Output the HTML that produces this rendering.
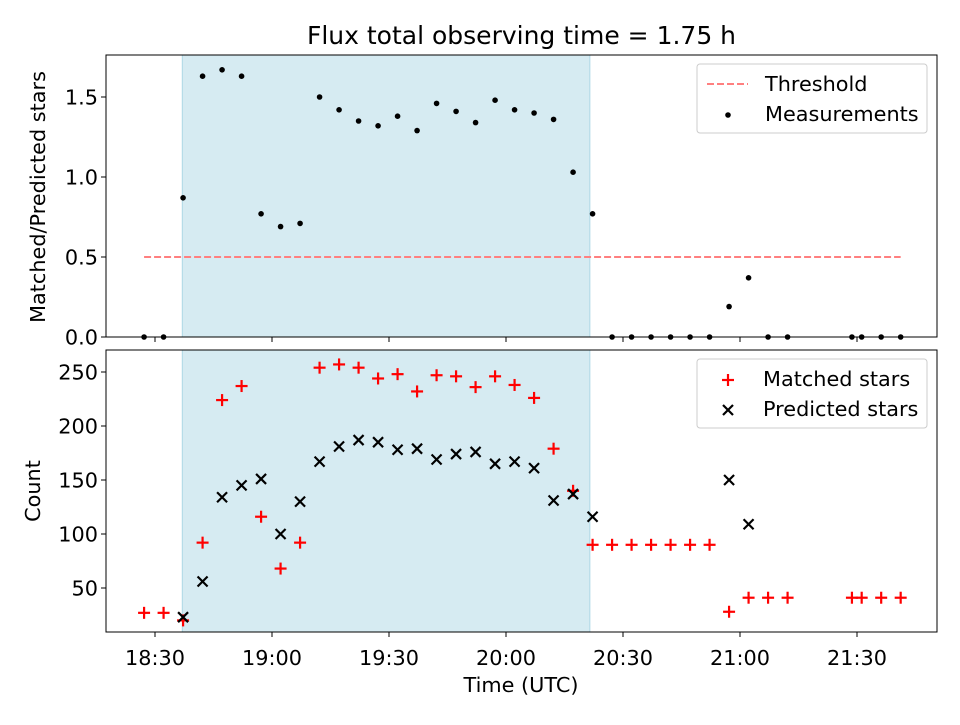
<!DOCTYPE html>
<html><head><meta charset="utf-8"><style>
body{margin:0;background:#fff}
svg{font-family:"DejaVu Sans","Liberation Sans",sans-serif}
</style></head><body>
<svg id="c" width="960" height="720"></svg>
<script>
const times=[-2.8,2.2,7.2,12.2,17.2,22.2,27.2,32.2,37.2,42.2,47.2,52.2,57.2,62.2,67.2,72.2,77.2,82.2,87.2,92.2,97.2,102.2,107.2,112.2,117.2,122.2,127.2,132.2,137.2,142.2,147.2,152.2,157.2,162.2,178.7,181.2,186.2,191.2];
const ratio=[0,0,0.87,1.63,1.67,1.63,0.77,0.69,0.71,1.50,1.42,1.35,1.32,1.38,1.29,1.46,1.41,1.34,1.48,1.42,1.40,1.36,1.03,0.77,0,0,0,0,0,0,0.19,0.37,0,0,0,0,0,0];
const matched=[27,27,20,92,224,237,116,68,92,254,257,254,244,248,232,247,246,236,246,238,226,179,140,90,90,90,90,90,90,90,28,41,41,41,41,41,41,41];
const predicted=[null,null,23,56,134,145,151,100,130,167,181,187,185,178,179,169,174,176,165,167,161,131,137,116,null,null,null,null,null,null,150,109,null,null,null,null,null,null];
const xTicks=[0,30,60,90,120,150,180];
const xTickLabels=["18:30","19:00","19:30","20:00","20:30","21:00","21:30"];
const topTicks=[0,0.5,1.0,1.5];
const botTicks=[50,100,150,200,250];
const shade=[7.0,111.5];
const threshold=0.5, thrRange=[-2.8,191.2];

const NS="http://www.w3.org/2000/svg",svg=document.getElementById('c');
function el(t,a,p){const e=document.createElementNS(NS,t);for(const k in a)e.setAttribute(k,a[k]);(p||svg).appendChild(e);return e;}
const L=106,R=937,FS=20.8;
const X=t=>155+t*3.9;
const Y1=v=>337-v*160;
const Y2=v=>642-v*1.08;
function txt(x,y,s,opt,p){const e=el('text',Object.assign({x:x,y:y,'font-size':FS,fill:'#000'},opt||{}),p);e.textContent=s;return e;}

let t=txt(521.5,44,"Flux total observing time = 1.75 h",{'text-anchor':'middle','font-size':25});


function panel(top,bot,Y,ticks,fmt,name){
  const g=el('g',{});
  
  
  const s=el('rect',{x:X(shade[0]),y:top,width:X(shade[1])-X(shade[0]),height:bot-top,fill:'#add8e6','fill-opacity':0.5,stroke:'#add8e6'},g);
  
  
  ticks.forEach(v=>{el('line',{x1:L-5,x2:L,y1:Y(v),y2:Y(v),stroke:'#000'},g);const e=txt(L-8,Y(v)+7.5,fmt(v),{'text-anchor':'end'},g);});
  xTicks.forEach(v=>el('line',{x1:X(v),x2:X(v),y1:bot,y2:bot+5,stroke:'#000'},g));
  return g;
}
panel(55,337,Y1,topTicks,v=>v.toFixed(1),'top-panel');
panel(350,632,Y2,botTicks,v=>String(v),'bottom-panel');
xTicks.forEach((v,i)=>{const e=txt(X(v),665,xTickLabels[i],{'text-anchor':'middle'});});

const th=el('line',{x1:X(thrRange[0]),x2:X(thrRange[1]),y1:Y1(threshold),y2:Y1(threshold),stroke:'#ff7f7f','stroke-width':2,'stroke-dasharray':'7,3'});

times.forEach((tm,i)=>{const c=el('circle',{cx:X(tm),cy:Y1(ratio[i]),r:2.8,fill:'#000'});});
function plus(x,y,col,p){const g=el('g',{stroke:col,'stroke-width':2.2},p);el('line',{x1:x-6,x2:x+6,y1:y,y2:y},g);el('line',{x1:x,x2:x,y1:y-6,y2:y+6},g);return g;}
function cross(x,y,col,p){const g=el('g',{stroke:col,'stroke-width':2.2},p);el('line',{x1:x-5,x2:x+5,y1:y-5,y2:y+5},g);el('line',{x1:x-5,x2:x+5,y1:y+5,y2:y-5},g);return g;}
times.forEach((tm,i)=>{const p=plus(X(tm),Y2(matched[i]),'#ff0000');});
times.forEach((tm,i)=>{if(predicted[i]==null)return;const p=cross(X(tm),Y2(predicted[i]),'#000');});

el('rect',{x:L,y:55,width:R-L,height:282,fill:'none',stroke:'#000'});
el('rect',{x:L,y:350,width:R-L,height:282,fill:'none',stroke:'#000'});

let a=txt(0,0,"Matched/Predicted stars",{'text-anchor':'middle',transform:'translate(45,197) rotate(-90)'});
a=txt(0,0,"Count",{'text-anchor':'middle',transform:'translate(40,491) rotate(-90)'});
a=txt(521,692,"Time (UTC)",{'text-anchor':'middle'});

let lg=el('g',{});
el('rect',{x:697,y:64,width:230,height:69,rx:3,fill:'#fff','fill-opacity':0.8,stroke:'#ccc'},lg);
el('line',{x1:707,x2:748,y1:84,y2:84,stroke:'#ff7f7f','stroke-width':2,'stroke-dasharray':'7,3'},lg);
txt(765,91,"Threshold",{},lg);
el('circle',{cx:728,cy:115,r:2.8,fill:'#000'},lg);
txt(765,121,"Measurements",{},lg);

lg=el('g',{});
el('rect',{x:697,y:359,width:230,height:69,rx:3,fill:'#fff','fill-opacity':0.8,stroke:'#ccc'},lg);
plus(728,380,'#ff0000',lg);
txt(763,386,"Matched stars",{},lg);
cross(728,410,'#000',lg);
txt(763,416,"Predicted stars",{},lg);
</script>
</body></html>
